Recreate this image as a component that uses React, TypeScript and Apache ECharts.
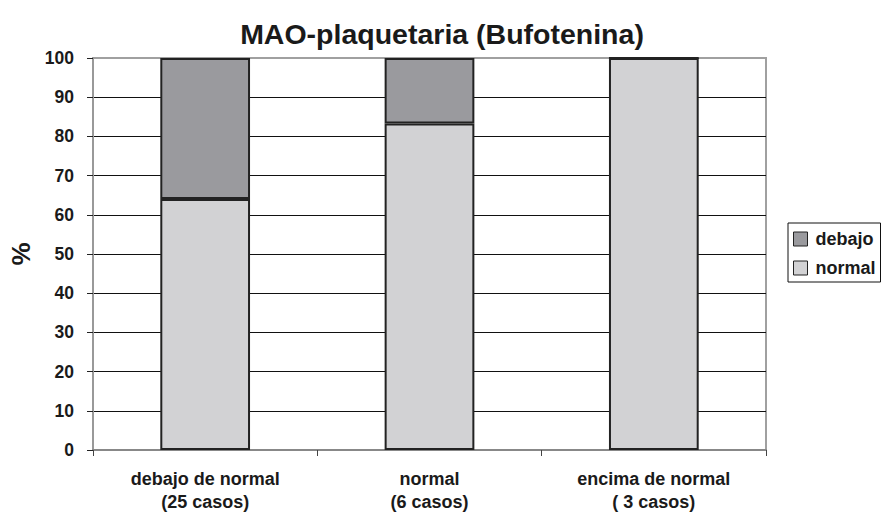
import React, { useEffect, useRef } from "react";
import * as echarts from "echarts";

const categories = ["debajo de normal\n(25 casos)", "normal\n(6 casos)", "encima de normal\n( 3 casos)"];
const normalValues = [64, 83.3, 100];
const debajoValues = [36, 16.7, 0];
const seriesNames = ["normal", "debajo"];

export default function App() {
  const ref = useRef<HTMLDivElement>(null);
  useEffect(() => {
    if (!ref.current) return;
    const chart = echarts.init(ref.current, null, { renderer: "svg" });
    const font = "Liberation Sans, Arial, sans-serif";
    chart.setOption({
      animation: false,
      backgroundColor: "#ffffff",
      title: {
        text: "MAO-plaquetaria (Bufotenina)",
        left: 437,
        textAlign: "center",
        top: 14,
        textStyle: { fontFamily: font, fontWeight: "bold", fontSize: 28.5, color: "#1a1a1a" },
      },
      legend: {
        orient: "vertical",
        left: 788,
        top: 223,
        data: ["debajo", "normal"],
        borderColor: "#111",
        borderWidth: 1,
        padding: [7, 5, 5, 5],
        itemGap: 11,
        itemWidth: 14,
        itemHeight: 14,
        icon: "rect",
        itemStyle: { borderColor: "#222", borderWidth: 1 },
        textStyle: { fontFamily: font, fontWeight: "bold", fontSize: 18, color: "#1a1a1a", padding: [0, 0, 0, 3] },
      },
      grid: {
        left: 93,
        right: 118,
        top: 58,
        bottom: 63,
        show: true,
        borderColor: "#a0a0a0",
        borderWidth: 2,
        outerBoundsMode: "none",
        containLabel: false,
      },
      xAxis: {
        type: "category",
        data: categories,
        axisLine: { show: true, lineStyle: { color: "#888", width: 2 } },
        axisTick: { show: true, length: 6, lineStyle: { color: "#444", width: 1 } },
        axisLabel: {
          interval: 0,
          margin: 17,
          lineHeight: 23,
          fontFamily: font,
          fontWeight: "bold",
          fontSize: 18,
          color: "#1a1a1a",
        },
      },
      yAxis: {
        type: "value",
        min: 0,
        max: 100,
        interval: 10,
        name: "%",
        nameLocation: "middle",
        nameRotate: 90,
        nameGap: 59,
        nameTextStyle: { fontFamily: font, fontWeight: "bold", fontSize: 26, color: "#1a1a1a" },
        axisLine: { show: true, lineStyle: { color: "#999", width: 2 } },
        axisTick: { show: true, length: 6, lineStyle: { color: "#222", width: 1 } },
        axisLabel: { margin: 19, fontFamily: font, fontWeight: "bold", fontSize: 17.5, color: "#1a1a1a" },
        splitLine: { show: true, showMinLine: false, showMaxLine: false, lineStyle: { color: "#111", width: 1 } },
      },
      series: [
        {
          name: seriesNames[0],
          type: "bar",
          stack: "total",
          data: normalValues,
          barWidth: "40%",
          itemStyle: { color: "#d2d2d4", borderColor: "#222", borderWidth: 2 },
        },
        {
          name: seriesNames[1],
          type: "bar",
          stack: "total",
          data: debajoValues,
          barWidth: "40%",
          itemStyle: { color: "#9a9a9e", borderColor: "#222", borderWidth: 2 },
        },
      ],
    });
    return () => chart.dispose();
  }, []);
  return <div ref={ref} style={{ position: "fixed", left: 0, top: 0, width: 884, height: 513 }} />;
}
